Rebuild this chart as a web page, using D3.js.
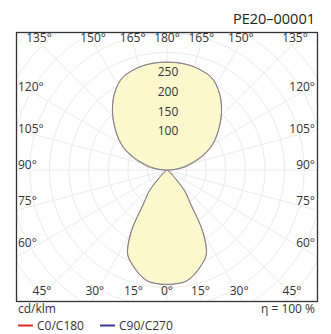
<!DOCTYPE html>
<html><head><meta charset="utf-8">
<script src="https://cdn.jsdelivr.net/npm/d3@7"></script>
<style>body{margin:0;background:#fff}svg{display:block}text{font-family:"Open Sans",sans-serif;fill:#333}</style>
</head><body>
<script>
// gamma angles (deg), 0 = downward nadir, 180 = upward
const gammas = [0,5,10,15,20,25,30,35,40,45,50,55,60,65,70,75,80,85,90,95,100,105,110,115,120,125,130,135,140,145,150,155,160,165,170,175,180];
const c0c180 = [292,291,288,275,258,238,185,105,72,28,12,5,3,2,1,1,1,2,5,28,50,68,92,116,137,156,175,196,216,235,251,263,268,272,274,275,275];
const c90c270 = [292,291,287,274,257,237,182,102,70,27,11,5,3,2,1,1,1,2,4,20,40,60,86,112,135,155,175,196,216,235,251,263,268,272,274,275,275];
const ringValues = [50,100,150,200,250,300,350,400,450,500,550];
const ringLabels = [100,150,200,250];
const angleTicks = [0,15,30,45,60,75,90,105,120,135,150,165,180];
const title = "PE20\u201300001";
const unitLabel = "cd/klm";
const effLabel = "\u03b7 = 100 %";
const seriesNames = ["C0/C180","C90/C270"];
const seriesColors = ["#e02a2a","#3c3c8e"];

const W = 331, H = 334;
const frame = {x0:16.5, y0:32.5, x1:317.5, y1:301.5};
const cx = 167, cy = 170;
const r = d3.scaleLinear().domain([0,250]).range([0,98]);
const rad = d => d*Math.PI/180;

const svg = d3.select("body").append("svg").attr("width",W).attr("height",H);
svg.append("defs").append("clipPath").attr("id","fc").append("rect")
  .attr("x",frame.x0).attr("y",frame.y0).attr("width",frame.x1-frame.x0).attr("height",frame.y1-frame.y0);

const g = svg.append("g").attr("clip-path","url(#fc)");
g.selectAll("circle.ring").data(ringValues).join("circle")
  .attr("cx",cx).attr("cy",cy).attr("r",d=>r(d))
  .attr("fill","none").attr("stroke","#ebebeb").attr("stroke-width",1);
const spokeAngles = d3.range(0,360,15);
g.selectAll("line.spoke").data(spokeAngles).join("line")
  .attr("x1",cx).attr("y1",cy)
  .attr("x2",d=>cx+400*Math.sin(rad(d))).attr("y2",d=>cy+400*Math.cos(rad(d)))
  .attr("stroke","#ebebeb").attr("stroke-width",1);

function pts(vals){
  const right = gammas.map((gm,i)=>[Math.PI-rad(gm), r(vals[i])]);
  const left = gammas.slice(1,-1).reverse().map(gm=>{const i=gammas.indexOf(gm);return [Math.PI+rad(gm), r(vals[i])];});
  return right.concat(left);
}
const line = d3.lineRadial().curve(d3.curveCatmullRomClosed.alpha(0.5));
const series = [c0c180, c90c270];
const cg = g.append("g").attr("transform",`translate(${cx},${cy})`);
series.forEach(v=>{
  cg.append("path").attr("d",line(pts(v))).attr("fill","#fcf7cd").attr("stroke","none");
});
const strokeCols = ["#9a817b","#7c7688"];
series.forEach((v,k)=>{
  cg.append("path").attr("d",line(pts(v))).attr("fill","none").attr("stroke",strokeCols[k]).attr("stroke-width",1).attr("stroke-opacity",0.85);
});

svg.selectAll("text.rl").data(ringLabels).join("text")
  .attr("x",cx+1).attr("y",d=>cy-r(d)+4.3).attr("text-anchor","middle")
  .attr("font-size",12).text(d=>d);

svg.append("rect").attr("x",frame.x0).attr("y",frame.y0)
  .attr("width",frame.x1-frame.x0).attr("height",frame.y1-frame.y0)
  .attr("fill","none").attr("stroke","#333").attr("stroke-width",1.3);

const labels = [];
angleTicks.forEach(gm=>{
  const sides = (gm===0||gm===180)?[0]:[-1,1];
  sides.forEach(s=>{
    let x,y,anchor;
    if(gm>=60 && gm<=120){
      x = s<0?18:315; anchor = s<0?"start":"end";
      y = cy-5-Math.tan(rad(gm-90))*135+4.3;
    } else if(gm>=135){
      x = cx + s*128*Math.tan(rad(180-gm)); y = 42; anchor="middle";
    } else {
      x = cx + s*125*Math.tan(rad(gm)); y = 295; anchor="middle";
    }
    labels.push({x,y,anchor,t:gm+"\u00b0"});
  });
});
svg.selectAll("text.al").data(labels).join("text")
  .attr("x",d=>d.x).attr("y",d=>d.y).attr("text-anchor",d=>d.anchor)
  .attr("font-size",12).text(d=>d.t);

svg.append("text").attr("x",315).attr("y",24).attr("text-anchor","end")
  .attr("font-size",14.5).style("fill","#222").text(title);
svg.append("text").attr("x",18).attr("y",313).attr("font-size",12).text(unitLabel);
svg.append("text").attr("x",315).attr("y",313).attr("text-anchor","end").attr("font-size",12).text(effLabel);
const lx = [18,100];
seriesNames.forEach((n,i)=>{
  svg.append("line").attr("x1",lx[i]).attr("x2",lx[i]+15).attr("y1",325.5).attr("y2",325.5)
    .attr("stroke",seriesColors[i]).attr("stroke-width",2);
  svg.append("text").attr("x",lx[i]+19).attr("y",330).attr("font-size",12).text(n);
});
</script>
</body></html>
